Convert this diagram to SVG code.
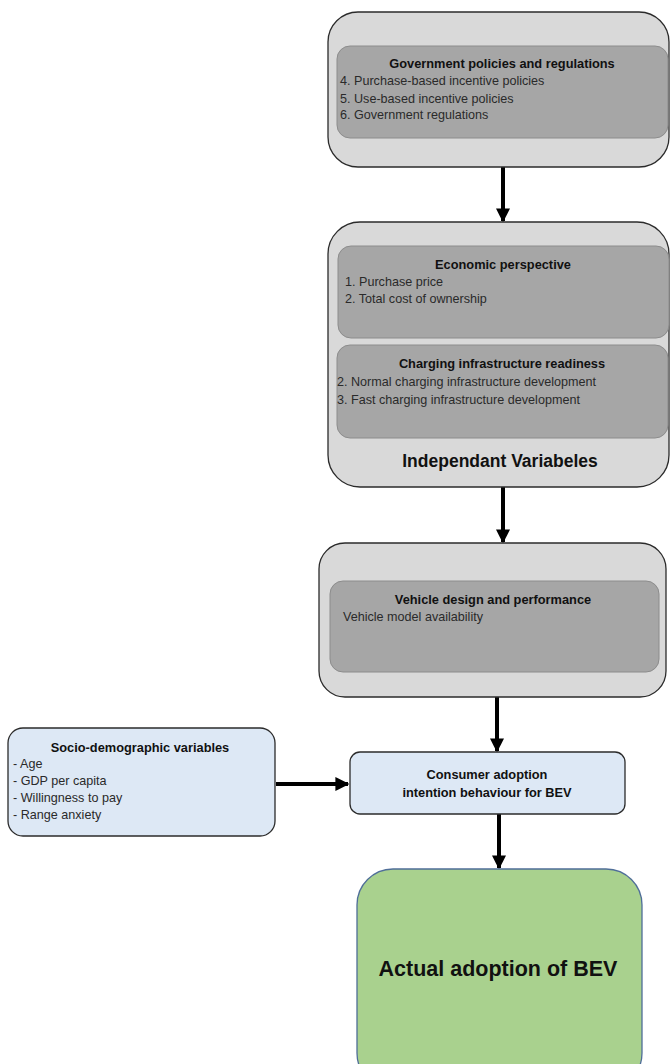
<svg xmlns="http://www.w3.org/2000/svg" width="670" height="1064" viewBox="0 0 670 1064">
<style>
.outer{fill:#d9d9d9;stroke:#2b2b2b;stroke-width:1.3}
.inner{fill:#a6a6a6;stroke:#8c8c8c;stroke-width:1}
.blue{fill:#dde8f5;stroke:#2b2b2b;stroke-width:1.3}
.green{fill:#a9d18e;stroke:#4f6e98;stroke-width:1.3}
.t{font-family:"Liberation Sans",Arial,sans-serif;font-size:12.8px;font-weight:bold;fill:#111;text-anchor:middle}
.i{font-family:"Liberation Sans",Arial,sans-serif;font-size:12.6px;fill:#2a2a2a}
.big{font-family:"Liberation Sans",Arial,sans-serif;font-weight:bold;fill:#111;text-anchor:middle}
.c{stroke:#000;stroke-width:4;fill:none}
</style>
<defs>
<marker id="ah" viewBox="0 0 10 10" refX="9" refY="5" markerWidth="3.5" markerHeight="3.5" orient="auto" markerUnits="strokeWidth">
<path d="M0,0 L10,5 L0,10 z" fill="#000"/>
</marker>
</defs>
<g id="connectors">
<line class="c" x1="503" y1="167" x2="503" y2="221" marker-end="url(#ah)"/>
<line class="c" x1="503" y1="487" x2="503" y2="542" marker-end="url(#ah)"/>
<line class="c" x1="497" y1="697" x2="497" y2="751" marker-end="url(#ah)"/>
<line class="c" x1="276" y1="784" x2="348" y2="784" marker-end="url(#ah)"/>
<line class="c" x1="499" y1="814" x2="499" y2="868" marker-end="url(#ah)"/>
</g>
<g id="gov">
<rect class="outer" x="328" y="12" width="341" height="155" rx="30"/>
<rect class="inner" x="337" y="46" width="331" height="92" rx="13"/>
<text class="t" x="502" y="68">Government policies and regulations</text>
<text class="i" x="340" y="85">4. Purchase-based incentive policies</text>
<text class="i" x="340" y="103">5. Use-based incentive policies</text>
<text class="i" x="340" y="119">6. Government regulations</text>
</g>
<g id="independent">
<rect class="outer" x="328" y="222" width="341" height="265" rx="32"/>
<rect class="inner" x="338" y="246" width="331" height="92" rx="13"/>
<text class="t" x="503" y="269">Economic perspective</text>
<text class="i" x="345" y="286">1. Purchase price</text>
<text class="i" x="345" y="303">2. Total cost of ownership</text>
<rect class="inner" x="337" y="345" width="331" height="93" rx="13"/>
<text class="t" x="502" y="368">Charging infrastructure readiness</text>
<text class="i" x="337" y="386">2. Normal charging infrastructure development</text>
<text class="i" x="337" y="404">3. Fast charging infrastructure development</text>
<text class="big" x="500" y="467" font-size="17.5">Independant Variabeles</text>
</g>
<g id="vehicle">
<rect class="outer" x="319" y="543" width="347" height="154" rx="26"/>
<rect class="inner" x="330" y="581" width="329" height="91" rx="13"/>
<text class="t" x="493" y="604">Vehicle design and performance</text>
<text class="i" x="343" y="621">Vehicle model availability</text>
</g>
<g id="socio">
<rect class="blue" x="8" y="728" width="267" height="108" rx="15"/>
<text class="t" x="140" y="752">Socio-demographic variables</text>
<text class="i" x="13" y="768">- Age</text>
<text class="i" x="13" y="785">- GDP per capita</text>
<text class="i" x="13" y="802">- Willingness to pay</text>
<text class="i" x="13" y="819">- Range anxiety</text>
</g>
<g id="consumer">
<rect class="blue" x="350" y="752" width="275" height="62" rx="10"/>
<text class="t" x="487" y="779">Consumer adoption</text>
<text class="t" x="487" y="797">intention behaviour for BEV</text>
</g>
<g id="actual">
<rect class="green" x="357" y="869" width="285" height="220" rx="36"/>
<text class="big" x="498" y="976" font-size="21.5">Actual adoption of BEV</text>
</g>
</svg>
